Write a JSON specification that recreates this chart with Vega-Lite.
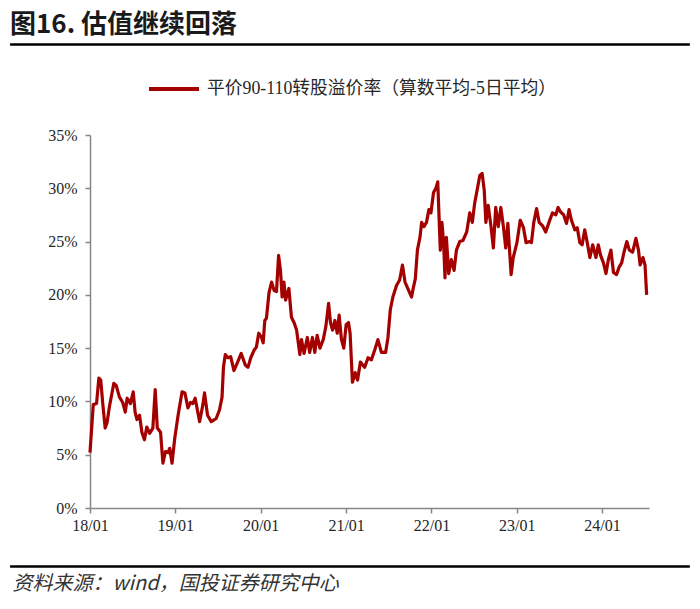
{
  "$schema": "https://vega.github.io/schema/vega-lite/v6.json",
  "width": 559,
  "height": 373,
  "autosize": {"type": "none"},
  "padding": {"left": 90, "top": 135, "right": 51, "bottom": 101},
  "background": "white",
  "title": {
    "text": "图16. 估值继续回落",
    "anchor": "start",
    "frame": "group",
    "dx": -80,
    "offset": 5,
    "font": "Noto Sans CJK SC",
    "fontSize": 26,
    "fontWeight": "bold",
    "color": "#1a1a1a"
  },
  "config": {
    "view": {"stroke": null},
    "axis": {
      "grid": false,
      "domainColor": "#868686",
      "domainWidth": 1.5,
      "tickColor": "#868686",
      "tickWidth": 1.5,
      "tickSize": 5,
      "labelFont": "Liberation Serif",
      "labelFontSize": 16,
      "labelColor": "#262626"
    }
  },
  "datasets": {
    "premium": [
      {"date": "2018-01-01", "v": 5.2}, {"date": "2018-01-15", "v": 9.7}, {"date": "2018-01-29", "v": 9.8},
      {"date": "2018-02-08", "v": 12.2}, {"date": "2018-02-16", "v": 12.0}, {"date": "2018-02-25", "v": 9.7},
      {"date": "2018-03-07", "v": 7.5}, {"date": "2018-03-15", "v": 8.0}, {"date": "2018-03-25", "v": 9.5},
      {"date": "2018-04-13", "v": 11.7}, {"date": "2018-04-23", "v": 11.5}, {"date": "2018-05-07", "v": 10.4},
      {"date": "2018-05-21", "v": 9.9}, {"date": "2018-06-01", "v": 9.0}, {"date": "2018-06-09", "v": 10.3},
      {"date": "2018-06-23", "v": 9.8}, {"date": "2018-07-05", "v": 10.9}, {"date": "2018-07-13", "v": 9.0},
      {"date": "2018-07-21", "v": 8.3}, {"date": "2018-08-01", "v": 8.7}, {"date": "2018-08-11", "v": 7.1},
      {"date": "2018-08-22", "v": 6.4}, {"date": "2018-09-01", "v": 7.6}, {"date": "2018-09-13", "v": 7.0},
      {"date": "2018-09-27", "v": 7.5}, {"date": "2018-10-07", "v": 11.1}, {"date": "2018-10-16", "v": 7.5},
      {"date": "2018-10-30", "v": 7.1}, {"date": "2018-11-09", "v": 4.2}, {"date": "2018-11-20", "v": 5.3},
      {"date": "2018-12-01", "v": 5.2}, {"date": "2018-12-08", "v": 5.6}, {"date": "2018-12-18", "v": 4.2},
      {"date": "2018-12-30", "v": 6.6}, {"date": "2019-01-13", "v": 8.7}, {"date": "2019-01-30", "v": 10.9},
      {"date": "2019-02-11", "v": 10.8}, {"date": "2019-02-24", "v": 9.4}, {"date": "2019-03-07", "v": 9.9},
      {"date": "2019-03-17", "v": 9.8}, {"date": "2019-03-27", "v": 10.3}, {"date": "2019-04-15", "v": 8.1},
      {"date": "2019-04-29", "v": 9.7}, {"date": "2019-05-06", "v": 10.8}, {"date": "2019-05-19", "v": 8.7},
      {"date": "2019-06-04", "v": 8.1}, {"date": "2019-06-25", "v": 8.4}, {"date": "2019-07-09", "v": 9.2},
      {"date": "2019-07-20", "v": 10.4}, {"date": "2019-07-26", "v": 13.2}, {"date": "2019-08-03", "v": 14.4},
      {"date": "2019-08-14", "v": 14.1}, {"date": "2019-08-26", "v": 14.2}, {"date": "2019-09-09", "v": 12.9},
      {"date": "2019-09-23", "v": 13.6}, {"date": "2019-10-10", "v": 14.5}, {"date": "2019-10-28", "v": 13.4},
      {"date": "2019-11-08", "v": 13.2}, {"date": "2019-11-20", "v": 14.1}, {"date": "2019-12-04", "v": 14.8},
      {"date": "2019-12-14", "v": 15.1}, {"date": "2019-12-24", "v": 16.4}, {"date": "2020-01-05", "v": 16.0},
      {"date": "2020-01-12", "v": 15.5}, {"date": "2020-01-19", "v": 17.6}, {"date": "2020-01-26", "v": 17.8},
      {"date": "2020-02-06", "v": 20.2}, {"date": "2020-02-17", "v": 21.2}, {"date": "2020-02-28", "v": 20.4},
      {"date": "2020-03-09", "v": 20.3}, {"date": "2020-03-18", "v": 23.7}, {"date": "2020-03-26", "v": 22.3},
      {"date": "2020-04-02", "v": 19.8}, {"date": "2020-04-10", "v": 21.2}, {"date": "2020-04-17", "v": 19.5},
      {"date": "2020-05-01", "v": 20.6}, {"date": "2020-05-12", "v": 17.9}, {"date": "2020-05-23", "v": 17.4},
      {"date": "2020-06-03", "v": 16.7}, {"date": "2020-06-17", "v": 14.4}, {"date": "2020-06-24", "v": 15.8},
      {"date": "2020-07-05", "v": 14.5}, {"date": "2020-07-19", "v": 16.0}, {"date": "2020-07-29", "v": 14.6},
      {"date": "2020-08-10", "v": 16.0}, {"date": "2020-08-20", "v": 14.6}, {"date": "2020-08-30", "v": 16.2},
      {"date": "2020-09-11", "v": 15.0}, {"date": "2020-09-25", "v": 15.8}, {"date": "2020-10-06", "v": 17.0},
      {"date": "2020-10-18", "v": 19.2}, {"date": "2020-10-26", "v": 17.4}, {"date": "2020-11-04", "v": 16.7},
      {"date": "2020-11-14", "v": 17.6}, {"date": "2020-11-24", "v": 16.4}, {"date": "2020-12-02", "v": 18.1},
      {"date": "2020-12-12", "v": 15.8}, {"date": "2020-12-22", "v": 15.0}, {"date": "2021-01-01", "v": 17.2},
      {"date": "2021-01-11", "v": 17.4}, {"date": "2021-01-18", "v": 16.4}, {"date": "2021-01-28", "v": 11.8},
      {"date": "2021-02-09", "v": 12.7}, {"date": "2021-02-19", "v": 12.0}, {"date": "2021-03-03", "v": 13.7},
      {"date": "2021-03-21", "v": 13.2}, {"date": "2021-04-05", "v": 14.1}, {"date": "2021-04-19", "v": 13.9},
      {"date": "2021-05-03", "v": 14.8}, {"date": "2021-05-17", "v": 15.8}, {"date": "2021-06-01", "v": 14.6},
      {"date": "2021-06-19", "v": 14.6}, {"date": "2021-06-29", "v": 16.0}, {"date": "2021-07-09", "v": 18.6},
      {"date": "2021-07-20", "v": 19.8}, {"date": "2021-08-05", "v": 20.9}, {"date": "2021-08-18", "v": 21.4},
      {"date": "2021-08-30", "v": 22.8}, {"date": "2021-09-10", "v": 21.2}, {"date": "2021-09-24", "v": 20.5},
      {"date": "2021-10-08", "v": 19.8}, {"date": "2021-10-15", "v": 20.6}, {"date": "2021-10-24", "v": 21.5},
      {"date": "2021-11-02", "v": 24.2}, {"date": "2021-11-13", "v": 25.4}, {"date": "2021-11-20", "v": 26.8},
      {"date": "2021-11-30", "v": 26.4}, {"date": "2021-12-11", "v": 26.8}, {"date": "2021-12-21", "v": 28.0},
      {"date": "2021-12-30", "v": 27.7}, {"date": "2022-01-10", "v": 29.6}, {"date": "2022-01-20", "v": 30.0},
      {"date": "2022-01-28", "v": 30.6}, {"date": "2022-02-08", "v": 24.2}, {"date": "2022-02-15", "v": 26.8},
      {"date": "2022-02-22", "v": 24.9}, {"date": "2022-02-28", "v": 21.6}, {"date": "2022-03-06", "v": 25.4},
      {"date": "2022-03-16", "v": 22.0}, {"date": "2022-03-27", "v": 23.3}, {"date": "2022-04-08", "v": 22.3},
      {"date": "2022-04-18", "v": 24.2}, {"date": "2022-05-02", "v": 25.0}, {"date": "2022-05-16", "v": 25.1},
      {"date": "2022-06-01", "v": 25.9}, {"date": "2022-06-14", "v": 27.7}, {"date": "2022-06-25", "v": 26.8},
      {"date": "2022-07-05", "v": 28.6}, {"date": "2022-07-17", "v": 30.0}, {"date": "2022-07-27", "v": 31.2},
      {"date": "2022-08-06", "v": 31.4}, {"date": "2022-08-15", "v": 29.8}, {"date": "2022-08-22", "v": 26.8},
      {"date": "2022-09-01", "v": 28.4}, {"date": "2022-09-13", "v": 26.4}, {"date": "2022-09-23", "v": 24.4},
      {"date": "2022-10-03", "v": 28.2}, {"date": "2022-10-14", "v": 26.4}, {"date": "2022-10-25", "v": 28.2},
      {"date": "2022-11-05", "v": 26.4}, {"date": "2022-11-15", "v": 24.4}, {"date": "2022-11-24", "v": 26.7},
      {"date": "2022-12-08", "v": 21.9}, {"date": "2022-12-17", "v": 23.5}, {"date": "2023-01-02", "v": 24.9},
      {"date": "2023-01-16", "v": 27.0}, {"date": "2023-01-30", "v": 26.3}, {"date": "2023-02-10", "v": 24.9},
      {"date": "2023-02-24", "v": 25.0}, {"date": "2023-03-05", "v": 24.9}, {"date": "2023-03-15", "v": 26.8},
      {"date": "2023-03-27", "v": 28.1}, {"date": "2023-04-07", "v": 26.8}, {"date": "2023-04-21", "v": 26.5},
      {"date": "2023-05-05", "v": 25.9}, {"date": "2023-05-19", "v": 26.8}, {"date": "2023-06-03", "v": 27.7},
      {"date": "2023-06-17", "v": 27.5}, {"date": "2023-06-27", "v": 28.2}, {"date": "2023-07-07", "v": 27.8},
      {"date": "2023-07-21", "v": 27.5}, {"date": "2023-08-02", "v": 26.7}, {"date": "2023-08-13", "v": 28.0},
      {"date": "2023-08-23", "v": 27.0}, {"date": "2023-09-07", "v": 26.1}, {"date": "2023-09-17", "v": 26.3},
      {"date": "2023-09-28", "v": 24.9}, {"date": "2023-10-08", "v": 24.7}, {"date": "2023-10-19", "v": 26.1},
      {"date": "2023-10-29", "v": 25.0}, {"date": "2023-11-10", "v": 23.5}, {"date": "2023-11-22", "v": 24.7},
      {"date": "2023-12-06", "v": 23.5}, {"date": "2023-12-16", "v": 24.7}, {"date": "2023-12-26", "v": 23.7},
      {"date": "2024-01-07", "v": 23.0}, {"date": "2024-01-18", "v": 22.0}, {"date": "2024-01-28", "v": 23.3},
      {"date": "2024-02-08", "v": 24.2}, {"date": "2024-02-19", "v": 22.1}, {"date": "2024-03-03", "v": 21.9},
      {"date": "2024-03-14", "v": 22.6}, {"date": "2024-03-25", "v": 23.0}, {"date": "2024-04-04", "v": 24.0},
      {"date": "2024-04-16", "v": 25.0}, {"date": "2024-04-27", "v": 24.2}, {"date": "2024-05-11", "v": 24.0},
      {"date": "2024-05-25", "v": 25.3}, {"date": "2024-06-05", "v": 24.2}, {"date": "2024-06-12", "v": 22.8},
      {"date": "2024-06-24", "v": 23.5}, {"date": "2024-07-03", "v": 22.8}, {"date": "2024-07-10", "v": 20.0}
    ],
    "frame": [{}]
  },
  "layer": [
    {
      "data": {"name": "premium"},
      "mark": {"type": "line", "strokeWidth": 3.2, "strokeJoin": "round"},
      "encoding": {
        "x": {
          "field": "date",
          "type": "temporal",
          "scale": {"domain": [{"year": 2018, "month": 1, "date": 1}, {"year": 2024, "month": 7, "date": 20}], "nice": false},
          "axis": {
            "format": "%y/%m",
            "tickCount": {"interval": "year", "step": 1},
            "labelPadding": 4,
            "labelFlush": false,
            "title": "资料来源：wind，国投证券研究中心",
            "titleFont": "Noto Sans CJK SC",
            "titleFontStyle": "italic",
            "titleFontWeight": "normal",
            "titleFontSize": 20,
            "titleColor": "#333333",
            "titleAnchor": "start",
            "titleAlign": "left",
            "titleBaseline": "middle",
            "titleX": -78,
            "titleY": 75
          }
        },
        "y": {
          "field": "v",
          "type": "quantitative",
          "scale": {"domain": [0, 35], "nice": false},
          "axis": {
            "values": [0, 5, 10, 15, 20, 25, 30, 35],
            "labelExpr": "datum.value + '%'",
            "labelPadding": 8,
            "title": null
          }
        },
        "color": {
          "datum": "平价90-110转股溢价率（算数平均-5日平均）",
          "type": "nominal",
          "scale": {"range": ["#A50000"]},
          "legend": {
            "orient": "none",
            "legendX": 57,
            "legendY": -73,
            "title": null,
            "symbolType": "stroke",
            "symbolSize": 2500,
            "symbolStrokeWidth": 4,
            "labelFont": "Liberation Serif, Noto Sans CJK SC",
            "labelFontSize": 17.8,
            "labelColor": "#262626",
            "labelOffset": 6,
            "labelLimit": 500
          }
        }
      }
    },
    {
      "data": {"name": "frame"},
      "mark": {"type": "rule", "color": "#000000", "strokeWidth": 2.5},
      "encoding": {
        "x": {"datum": {"year": 2017, "month": 1, "date": 24}, "type": "temporal"},
        "x2": {"datum": {"year": 2025, "month": 1, "date": 11}},
        "y": {"datum": 43.5, "type": "quantitative"}
      }
    },
    {
      "data": {"name": "frame"},
      "mark": {"type": "rule", "color": "#000000", "strokeWidth": 2.5},
      "encoding": {
        "x": {"datum": {"year": 2017, "month": 1, "date": 24}, "type": "temporal"},
        "x2": {"datum": {"year": 2025, "month": 1, "date": 11}},
        "y": {"datum": -5.5, "type": "quantitative"}
      }
    }
  ]
}
